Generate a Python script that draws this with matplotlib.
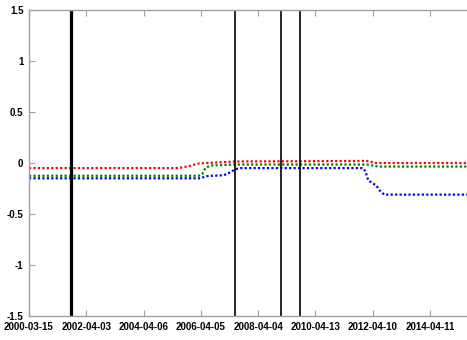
import matplotlib
matplotlib.use('Agg')
import matplotlib.pyplot as plt

# trading-day index of each tick and the date shown under it
tick_pos = [0, 500, 1000, 1500, 2000, 2500, 3000, 3500]
tick_dates = ['2000-03-15', '2002-04-03', '2004-04-06', '2006-04-05',
              '2008-04-04', '2010-04-13', '2012-04-10', '2014-04-11']

# series breakpoints (trading-day index, value)
red_x = [0, 1300, 1400, 1480, 1550, 1800, 2950, 3030, 3822]
red_y = [-0.05, -0.05, -0.03, -0.005, 0.0, 0.015, 0.02, 0.0, 0.0]

green_x = [0, 1480, 1510, 1540, 1580, 1800, 2950, 3050, 3822]
green_y = [-0.125, -0.125, -0.11, -0.05, -0.025, -0.015, -0.015, -0.035, -0.035]

blue_x = [0, 1500, 1540, 1600, 1700, 1760, 1800, 1850, 2915, 2935, 2960,
          3000, 3030, 3060, 3100, 3822]
blue_y = [-0.15, -0.15, -0.13, -0.125, -0.12, -0.09, -0.06, -0.05, -0.05,
          -0.08, -0.17, -0.2, -0.22, -0.27, -0.31, -0.31]

# event markers
thick_events = [366]
thin_events = [1800, 2202, 2365]

fig = plt.figure(figsize=(4.67, 3.4), dpi=100)
ax = fig.add_axes([29 / 467, 24 / 340, 438 / 467, 306 / 340])

dot = (0, (1, 1))
ax.plot(red_x, red_y, color='r', linestyle=dot, linewidth=1.6)
ax.plot(green_x, green_y, color=(0, 0.5, 0), linestyle=dot, linewidth=1.6)
ax.plot(blue_x, blue_y, color='b', linestyle=dot, linewidth=1.6)

for xv in thick_events:
    ax.axvline(xv, color='black', linewidth=2.3)
for xv in thin_events:
    ax.axvline(xv, color='black', linewidth=1.2)

ax.set_xlim(0, 3822)
ax.set_ylim(-1.5, 1.5)
ax.set_xticks(tick_pos)
ax.set_xticklabels(tick_dates)
ax.set_yticks([-1.5, -1, -0.5, 0, 0.5, 1, 1.5])
ax.set_yticklabels(['-1.5', '-1', '-0.5', '0', '0.5', '1', '1.5'])

for side in ['left', 'top', 'bottom']:
    ax.spines[side].set_color('#a0a0a0')
    ax.spines[side].set_linewidth(1.0)
ax.spines['right'].set_visible(False)

ax.tick_params(direction='in', length=4, width=0.8, color='#a0a0a0',
               top=True, bottom=True, left=True, right=False,
               labelsize=7, pad=4)
for lbl in ax.get_xticklabels() + ax.get_yticklabels():
    lbl.set_fontfamily('Liberation Sans')
    lbl.set_fontweight('bold')

fig.savefig('out.png', dpi=100)
